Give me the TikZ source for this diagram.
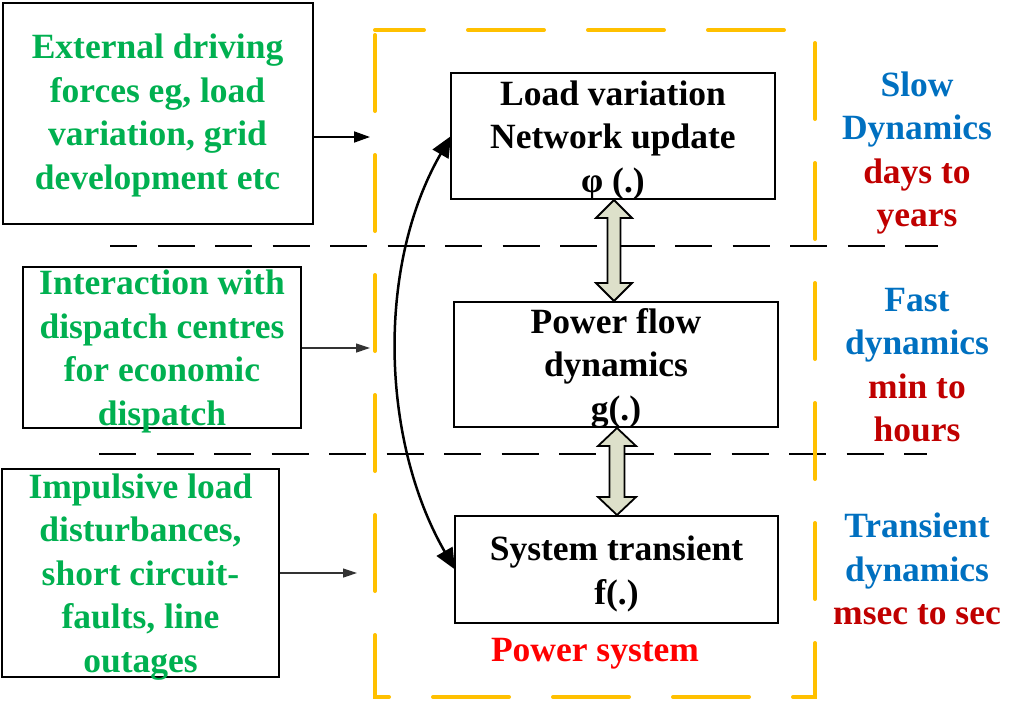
\documentclass[tikz,border=0pt]{standalone}
\usepackage{fontspec}
\setmainfont{Liberation Serif}
\usetikzlibrary{arrows.meta,calc}
\definecolor{ygold}{HTML}{FFC000}
\definecolor{tgreen}{HTML}{00B050}
\definecolor{tblue}{HTML}{0070C0}
\definecolor{tdred}{HTML}{C00000}
\definecolor{tred}{HTML}{FF0000}
\definecolor{afill}{HTML}{DDE0CA}
\begin{document}
\begin{tikzpicture}[x=1pt,y=-1pt,
  txt/.style={font=\fontsize{35.5}{43.5}\selectfont\bfseries, align=center, inner sep=0pt},
  box/.style={draw=black, fill=white, line width=2pt, inner sep=0pt},
  sep/.style={draw=black, line width=2pt, dash pattern=on 37pt off 20.5pt},
  ydash/.style={draw=ygold, line width=4pt, line cap=round, dash pattern=on 76pt off 44pt, dash phase=115pt},
  dbl/.style={draw=black, line width=1.8pt, fill=afill, line join=miter},
  curv/.style={draw=black, line width=2.5pt, {Triangle[length=21pt,width=18pt]}-{Triangle[length=21pt,width=18pt]}},
  inarrA/.style={draw=black, line width=1.8pt, -{Triangle[length=16pt,width=11pt]}},
  inarrB/.style={draw=black!80, line width=1.2pt, -{Triangle[length=14pt,width=9pt]}}
]
\useasboundingbox (0,0) rectangle (1030,702);

% separators
\coordinate (d1l) at (110,246); \coordinate (d1r) at (938,246);
\coordinate (d2l) at (99,454);  \coordinate (d2r) at (927,454);
\draw[sep, dash phase=10pt] (d1l) -- (d1r);
\draw[sep] (d2l) -- (d2r);

% power system frame
\coordinate (ytl) at (375,30); \coordinate (ybl) at (375,697);
\coordinate (ybr) at (815,697); \coordinate (ytr) at (815,30);
\draw[ydash] (ytl) -- (ybl) -- (ybr) -- (ytr) -- cycle;

% curved feedback arrow (drawn before boxes)
\coordinate (cA) at (451,136);
\coordinate (cC) at (455,569.5);
\draw[curv] (cA) .. controls (376.5,265) and (380.5,440) .. (cC);

% input boxes
\node[box, minimum width=310, minimum height=221] (b1) at (157.5,113.5) {};
\node[txt, text=tgreen] (b1t) at (157.5,115.5) {External driving\\forces eg, load\\variation, grid\\development etc};
\node[box, minimum width=278, minimum height=161] (b2) at (162,347.5) {};
\node[txt, text=tgreen] (b2t) at (162,351.5) {Interaction with\\dispatch centres\\for economic\\dispatch};
\node[box, minimum width=277, minimum height=208] (b3) at (140.5,573) {};
\node[txt, text=tgreen] (b3t) at (140.5,577) {Impulsive load\\disturbances,\\short circuit-\\faults, line\\outages};

% system boxes
\node[box, minimum width=324, minimum height=126] (A) at (613,136) {};
\node[txt] (At) at (613,140) {Load variation\\Network update\\φ (.)};
\node[box, minimum width=324, minimum height=125] (B) at (616,364.5) {};
\node[txt] (Bt) at (616,368) {Power flow\\dynamics\\g(.)};
\node[box, minimum width=323, minimum height=107] (C) at (616.5,569.5) {};
\node[txt] (Ct) at (616.5,574) {System transient\\f(.)};

% input arrows
\coordinate (y1) at (370,137);
\coordinate (y2) at (370,348);
\coordinate (y3) at (357,573);
\draw[inarrA] (b1.east |- y1) -- (y1);
\draw[inarrB] (b2.east |- y2) -- (y2);
\draw[inarrB] (b3.east |- y3) -- (y3);

% double arrows
\coordinate (t1) at ($(A.south)+(1,0)$);
\coordinate (u1) at (t1 |- B.north);
\draw[dbl] (t1) -- ++(-18,18) -- ++(11.5,0) -- ($(u1)+(-6.5,-18)$) -- ++(-11.5,0) -- (u1)
  -- ++(18,-18) -- ++(-11.5,0) -- ($(t1)+(6.5,18)$) -- ++(11.5,0) -- cycle;
\coordinate (t2) at ($(B.south)+(1,0)$);
\coordinate (u2) at (t2 |- C.north);
\draw[dbl] (t2) -- ++(-19,18) -- ++(11.5,0) -- ($(u2)+(-7.5,-18)$) -- ++(-11.5,0) -- (u2)
  -- ++(19,-18) -- ++(-11.5,0) -- ($(t2)+(7.5,18)$) -- ++(11.5,0) -- cycle;

% right labels
\node[txt] (r1) at (917,153) {\textcolor{tblue}{Slow}\\\textcolor{tblue}{Dynamics}\\\textcolor{tdred}{days to}\\\textcolor{tdred}{years}};
\node[txt] (r2) at (917,365) {\textcolor{tblue}{Fast}\\\textcolor{tblue}{dynamics}\\\textcolor{tdred}{min to}\\\textcolor{tdred}{hours}};
\node[txt] (r3) at (917,569) {\textcolor{tblue}{Transient}\\\textcolor{tblue}{dynamics}\\\textcolor{tdred}{msec to sec}};

\node[txt, text=tred] (ps) at (595,654) {Power system};
\end{tikzpicture}
\end{document}
